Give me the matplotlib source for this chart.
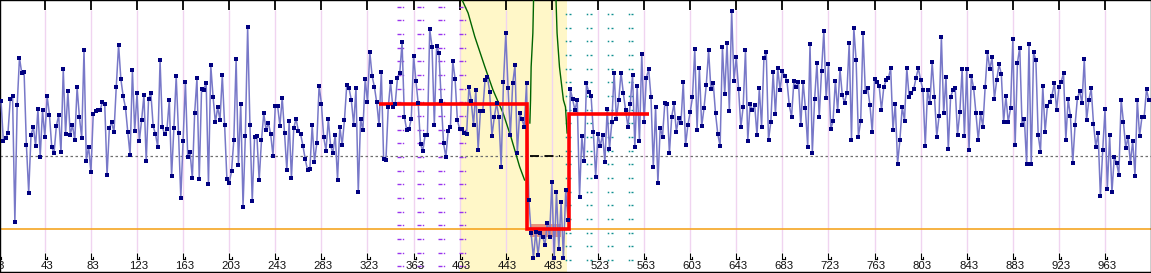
import numpy as np
import matplotlib.pyplot as plt

# one reading every 2 samples, first one at sample 5
first_sample, sample_step = 5, 2

# readings in chunks of 83 samples
chunk_1 = [697, 578, 587, 600, 702, 711, 334, 684, 827, 780,
           784, 566, 422, 594, 620, 562, 673, 530, 669, 589,
           712, 656, 559, 540, 622, 654, 543, 792, 597, 727,
           596, 624, 579, 738, 649, 586, 850, 518, 560, 483,
           657, 666, 669, 669, 695, 687, 474, 616, 633, 603,
           740, 866, 762, 711, 677, 603, 534, 789, 607, 720,
           577, 640, 715, 516, 702, 721, 622, 598, 559, 819,
           618, 597, 612, 701, 471, 617, 771, 602, 406, 576,
           754, 530, 545]
chunk_2 = [465, 660, 765, 462, 732, 730, 752, 447, 804, 709,
           633, 678, 640, 774, 626, 463, 450, 486, 580, 822,
           505, 689, 380, 592, 918, 624, 396, 589, 593, 459,
           579, 660, 609, 632, 597, 532, 683, 682, 623, 707,
           601, 489, 636, 465, 615, 644, 607, 597, 562, 522,
           489, 492, 624, 515, 570, 743, 689, 588, 548, 642,
           563, 541, 596, 461, 620, 564, 640, 744, 735, 699,
           626, 735, 423, 643, 609, 764, 693, 844, 772, 739,
           693, 624, 785]
chunk_3 = [522, 520, 678, 754, 678, 687, 765, 781, 873, 650,
           610, 612, 644, 832, 758, 690, 568, 547, 595, 595,
           912, 860, 626, 863, 842, 697, 570, 529, 607, 620,
           817, 763, 640, 612, 614, 600, 597, 740, 697, 624,
           730, 550, 667, 667, 760, 770, 725, 592, 648, 690,
           650, 500, 753, 900, 735, 596, 750, 804, 540, 660,
           642, 620, 750, 400, 300, 226, 305, 235, 300, 290,
           265, 332, 290, 455, 226, 425, 253, 395, 226, 430,
           340, 732, 702]
chunk_4 = [670, 700, 410, 592, 516, 750, 723, 713, 604, 470,
           598, 562, 596, 513, 673, 553, 633, 782, 644, 700,
           782, 720, 670, 619, 688, 776, 558, 742, 576, 838,
           634, 767, 792, 709, 500, 678, 450, 617, 590, 690,
           688, 540, 650, 690, 605, 645, 631, 755, 564, 624,
           663, 708, 852, 611, 795, 621, 675, 746, 849, 732,
           752, 660, 597, 562, 860, 717, 872, 668, 967, 758,
           828, 734, 618, 680, 850, 578, 687, 670, 684, 594,
           735, 620, 825]
chunk_5 = [843, 580, 634, 784, 657, 795, 730, 787, 773, 758,
           684, 650, 756, 738, 753, 624, 755, 675, 560, 867,
           540, 702, 811, 648, 787, 907, 705, 807, 612, 637,
           758, 666, 793, 715, 692, 722, 870, 580, 916, 820,
           590, 638, 900, 725, 735, 686, 603, 763, 755, 743,
           670, 738, 759, 765, 795, 610, 689, 509, 580, 679,
           638, 795, 710, 720, 732, 767, 795, 760, 730, 562,
           730, 690, 814, 710, 590, 652, 890, 660, 769, 552,
           709, 730, 735]
chunk_6 = [595, 663, 792, 592, 793, 550, 772, 735, 660, 579,
           660, 620, 740, 843, 792, 828, 703, 759, 807, 778,
           634, 711, 634, 675, 882, 565, 812, 857, 625, 643,
           507, 867, 507, 843, 819, 595, 545, 742, 604, 682,
           694, 713, 752, 670, 738, 755, 780, 580, 702, 652,
           512, 624, 705, 727, 690, 822, 639, 700, 735, 629,
           560, 600, 411, 550, 672, 433, 594, 423, 528, 512,
           476, 701, 633, 555, 590, 510, 578, 473, 700, 591,
           648, 650, 732, 700]

center_level = 531
lower_level = 312

tick_values = list(range(3, 964, 40))

# highlighted window and the fitted step (edges, levels)
window = (403, 496.5)
step_edges = [333.4, 461.3, 497.6, 567.7]
step_levels = [688, 312, 658]
band_x = (464, 491)
band_levels = (290, 329)
dash_x = (464, 490)

# three green curves
green_a_x = [405.1, 410.3, 416.1, 424.8, 431.9, 440.6, 447.5, 455.0, 459.3]
green_a_v = [1000, 961, 890, 800, 730, 661, 589, 500, 460]
green_b_x = [467.1, 466.5, 465.0, 464.5, 463.9]
green_b_v = [1000, 901, 799, 700, 631]
green_c_x = [486.6, 487.5, 489.6, 493.0, 494.8, 496.2]
green_c_v = [1000, 901, 799, 700, 679, 601]

# dotted marker columns either side of the window
purple_cols = [350, 368, 386, 404]
teal_cols = [495.5, 513.5, 531.5, 549.5]

readings = np.array(chunk_1 + chunk_2 + chunk_3 + chunk_4 + chunk_5 + chunk_6)
samples = first_sample + sample_step * np.arange(len(readings))

fig = plt.figure(figsize=(11.51, 2.73), dpi=100)
ax = fig.add_axes([0, 0, 1, 1])
ax.set_xlim(4.1, 1002.9)
ax.set_ylim(181, 1000)
ax.set_xticks([])
ax.set_yticks([])

ax.axvspan(*window, color='#FFF7C8', lw=0, zorder=0)

# grid + ticks
ax.vlines(tick_values, 243, 970, color='#F0D4F0', lw=1, zorder=1)
ax.vlines(tick_values, 970, 1000, color='black', lw=1.3, zorder=1)
ax.vlines(tick_values, 224, 241, color='black', lw=0.8, zorder=1)
for t in tick_values:
    ax.plot([t, t + 2], [224, 224], color='black', lw=0.8, zorder=1)
    ax.plot([t + 2, t + 2], [224, 229], color='black', lw=0.8, zorder=1)
    ax.text(t + 1.6, 202, str(t), ha='center', va='center', fontsize=8.2,
            family='Liberation Sans', color='#111111')

# dotted columns
rows_p = np.arange(980, 190, -41)
rows_t = np.arange(958, 190, -41)
for c in purple_cols:
    ax.plot([c] * len(rows_p), rows_p, ls='none', marker='_', ms=2.5, mew=1,
            color='#9933EE', zorder=1)
    ax.plot([c + 3.4] * len(rows_p), rows_p, ls='none', marker='s', ms=1,
            mew=0, color='#9933EE', zorder=1)
for c in teal_cols:
    ax.plot([c] * len(rows_t), rows_t, ls='none', marker='s', ms=1.1, mew=0,
            color='#109090', zorder=1)
    ax.plot([c + 3.4] * len(rows_t), rows_t, ls='none', marker='_', ms=2,
            mew=1, color='#109090', zorder=1)

ax.axhline(center_level, color='#707070', lw=0.9, ls=(0, (2, 2)), zorder=2)
ax.axhline(lower_level, color='#F5A623', lw=1.2, zorder=2)

ax.fill_between(band_x, band_levels[0], band_levels[1], color='#E8947C',
                lw=0, zorder=2)

ax.plot(green_a_x, green_a_v, color='#006400', lw=1, zorder=3)
ax.plot(green_b_x, green_b_v, color='#006400', lw=1, zorder=3)
ax.plot(green_c_x, green_c_v, color='#006400', lw=1, zorder=3)

ax.plot(samples, readings, color='#7878C8', lw=1.1, zorder=4)
ax.stairs(step_levels, step_edges, baseline=None, color='#FF0000', lw=2.6,
          zorder=5)
ax.plot(dash_x, [center_level, center_level], color='black', lw=1.3,
        ls=(0, (5, 3)), zorder=5)
ax.plot(samples, readings, ls='none', marker='s', ms=2.4, mew=0,
        color='#000080', zorder=6)

for s in ax.spines.values():
    s.set_color('black')
    s.set_linewidth(1)
ax.spines['bottom'].set_linewidth(2.5)

fig.savefig('out.png', dpi=100)
